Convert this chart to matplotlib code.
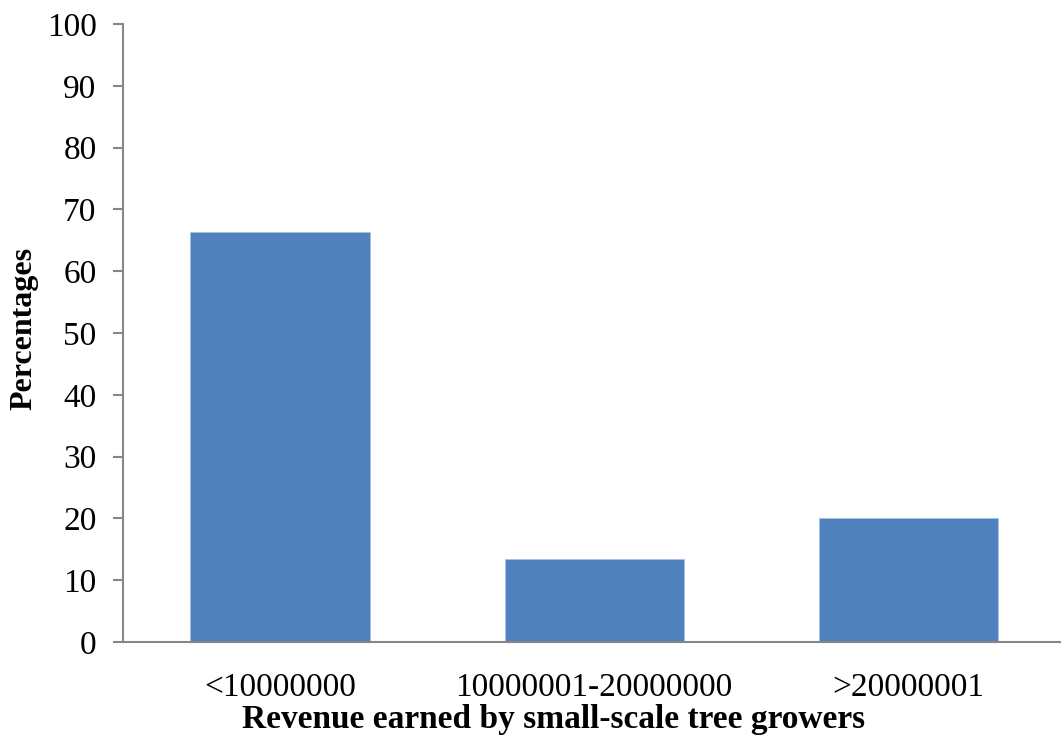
import matplotlib.pyplot as plt
import numpy as np

categories = ['<10000000', '10000001-20000000', '>20000001']
percentages = [66.4, 13.5, 20.1]
y_ticks = [0, 10, 20, 30, 40, 50, 60, 70, 80, 90, 100]

bar_color = '#4F81BD'
axis_color = '#868686'

plt.rcParams['font.family'] = ['Liberation Serif', 'DejaVu Serif']

fig = plt.figure(figsize=(10.61, 7.40), dpi=100)
ax = fig.add_axes([0.1159, 0.1324, 0.888, 0.8352])

ind = np.arange(len(categories))
ax.bar(ind, percentages, width=0.57, color=bar_color, edgecolor='#a9c0e0', linewidth=0.6)

ax.set_xlim(-0.5, len(categories) - 0.5)
ax.set_ylim(0, 100)
ax.set_yticks(y_ticks)
ax.set_xticks(ind)
ax.set_xticklabels(categories)

ax.tick_params(axis='y', labelsize=24, length=7, width=1.5, color=axis_color, pad=12)
ax.tick_params(axis='x', labelsize=24, length=0, pad=22)

for side in ['top', 'right']:
    ax.spines[side].set_visible(False)
for side in ['left', 'bottom']:
    ax.spines[side].set_color(axis_color)
    ax.spines[side].set_linewidth(1.5)

fig.text(0.023, 0.556, 'Percentages', rotation=90, fontsize=23, fontweight='bold',
         ha='center', va='center')
fig.text(0.522, 0.0162, 'Revenue earned by small-scale tree growers', fontsize=24,
         fontweight='bold', ha='center', va='baseline')

fig.savefig('out.png', dpi=100)
plt.close(fig)
